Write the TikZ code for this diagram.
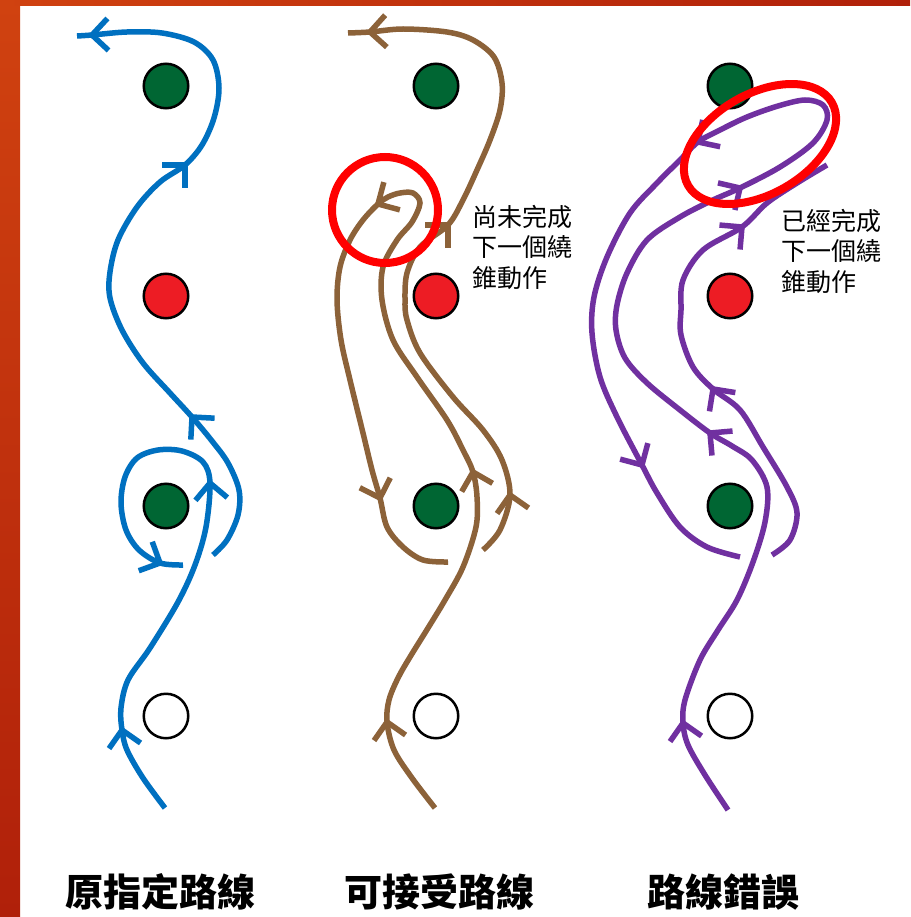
\documentclass[tikz,border=0pt]{standalone}
\usepackage{fontspec}
\newfontfamily\cjk{Noto Sans CJK TC}
\usetikzlibrary{shapes.geometric}
\definecolor{pblue}{RGB}{0,112,192}
\definecolor{pbrown}{RGB}{140,98,57}
\definecolor{ppurple}{RGB}{112,48,160}
\definecolor{dgreen}{RGB}{0,102,51}
\definecolor{dred}{RGB}{237,28,36}
\definecolor{bordA}{RGB}{208,66,16}
\definecolor{bordB}{RGB}{176,32,10}
\newcommand\barbat[3]{\pic[color=#1,rotate=#3] at (#2) {arrowbarb};}
\begin{document}
\begin{tikzpicture}[x=1pt,y=-1pt,
  route/.style={line width=5.5pt, line cap=butt},
  arrowbarb/.pic={\draw[line width=5.5pt,line join=miter] (-16,16) -- (0,0) -- (-16,-16);},
  dot/.style={circle, draw=black, line width=2.5pt, minimum size=44.5pt, inner sep=0pt},
  ring/.style={draw=red, line width=8pt, inner sep=0pt},
  note/.style={font=\cjk\fontsize{25}{30.5}\selectfont, align=left, anchor=north west, inner sep=0pt},
  title/.style={font=\cjk\bfseries\fontsize{38}{40}\selectfont, anchor=base, inner sep=0pt}
]
\useasboundingbox (0,0) rectangle (910,917);
\fill[white] (0,0) rectangle (910,917);
\shade[top color=bordA, bottom color=bordB] (0,0) rectangle (20,917);
\shade[left color=bordA, right color=bordB] (0,0) rectangle (910,6);

% dots
\node[dot, fill=dgreen] (g1a) at (166,86) {};
\node[dot, fill=dred]   (r1)  at (166,296) {};
\node[dot, fill=dgreen] (g1b) at (166,506) {};
\node[dot, fill=white]  (w1)  at (166,716) {};
\node[dot, fill=dgreen] (g2a) at (436,86) {};
\node[dot, fill=dred]   (r2)  at (436,296) {};
\node[dot, fill=dgreen] (g2b) at (436,506) {};
\node[dot, fill=white]  (w2)  at (436,716) {};
\node[dot, fill=dgreen] (g3a) at (730,86) {};
\node[dot, fill=dred]   (r3)  at (730,296) {};
\node[dot, fill=dgreen] (g3b) at (730,506) {};
\node[dot, fill=white]  (w3)  at (730,716) {};

% blue route
\draw[route, pblue] plot[smooth, tension=0.55] coordinates {
 (165,808) (143,778) (127,750) (122,730) (121,708) (128,680) (150,648) (178,602)
 (195,565) (206,527) (210,483) (203,462) (182,451) (158,450) (137,458) (125,477)
 (121,503) (126,530) (139,550) (160,563) (183,565)};
\draw[route, pblue] plot[smooth, tension=0.55] coordinates {
 (213,555) (227,540) (238,515) (239,490) (228,463) (212,441) (192,417) (170,393)
 (143,363) (122,330) (110,298) (110,272) (118,240) (137,207) (160,182) (185,165)
 (202,145) (214,118) (219,88) (213,60) (194,42) (162,33) (127,32) (92,35) (77,36)};
\barbat{pblue}{122,730}{100}
\barbat{pblue}{210,483}{95}
\barbat{pblue}{160,563}{-25}
\barbat{pblue}{192,417}{132}
\barbat{pblue}{185,165}{45}
\barbat{pblue}{92,35}{182}

% brown routes
\draw[route, pbrown] plot[smooth, tension=0.55] coordinates {
 (435,808) (412,778) (394,750) (387,722) (389,700) (398,678) (410,657) (428,628)
 (445,600) (463,567) (476,527) (477,497) (473,472) (463,450) (447,420) (417,377)
 (393,340) (382,300) (383,267) (397,240) (412,222) (420,203) (413,193) (400,193)
 (388,197) (378,204) (363,220) (350,240) (340,267) (337,300) (341,340) (350,380)
 (363,433) (372,470) (380,498) (387,527) (403,547) (423,560) (448,562)};
\draw[route, pbrown] plot[smooth, tension=0.55] coordinates {
 (483,550) (500,530) (510,495) (502,460) (483,430) (453,397) (420,353) (407,320)
 (405,300) (407,273) (420,247) (448,225) (463,200) (477,170) (490,140) (500,110)
 (502,83) (494,57) (473,40) (447,32) (403,29) (370,32) (348,33)};
\barbat{pbrown}{387,722}{100}
\barbat{pbrown}{473,472}{105}
\barbat{pbrown}{510,495}{100}
\barbat{pbrown}{378,204}{210}
\barbat{pbrown}{380,498}{-72}
\barbat{pbrown}{448,225}{45}
\barbat{pbrown}{370,32}{183}

% purple routes
\draw[route, ppurple] plot[smooth, tension=0.55] coordinates {
 (728,810) (705,775) (688,745) (683,723) (685,700) (700,660) (718,630) (737,600)
 (753,562) (765,522) (767,487) (752,460) (732,446) (710,433) (680,410) (647,383)
 (625,358) (616,330) (617,305) (627,273) (647,240) (680,217) (713,200) (740,188)
 (780,167) (813,143) (827,120) (823,105) (805,100) (778,106) (747,117) (720,130)
 (698,142) (680,160) (657,183) (630,213) (607,257) (594,297) (592,333) (600,377)
 (617,417) (642,465) (657,493) (680,527) (707,547) (740,557)};
\draw[route, ppurple] plot[smooth, tension=0.55] coordinates {
 (772,555) (790,540) (797,513) (787,487) (763,447) (740,410) (713,389) (693,367)
 (681,335) (681,310) (683,280) (703,250) (742,227) (767,203) (797,183) (827,165)};
\barbat{ppurple}{683,723}{100}
\barbat{ppurple}{710,433}{140}
\barbat{ppurple}{740,188}{32}
\barbat{ppurple}{698,142}{213}
\barbat{ppurple}{642,465}{-60}
\barbat{ppurple}{713,389}{126}
\barbat{ppurple}{742,227}{40}

% red rings
\node[ring, circle, minimum size=106pt] (ring2) at (385,210) {};
\node[ring, ellipse, minimum width=166pt, minimum height=100pt, rotate=30] (ring3) at (760,144) {};

% texts
\node[note] (note2) at (472,205) {尚未完成\\下一個繞\\錐動作};
\node[note] (note3) at (781,209) {已經完成\\下一個繞\\錐動作};
\node[title] (lab1) at (160,906) {原指定路線};
\node[title] (lab2) at (439,906) {可接受路線};
\node[title] (lab3) at (723,906) {路線錯誤};
\end{tikzpicture}
\end{document}
